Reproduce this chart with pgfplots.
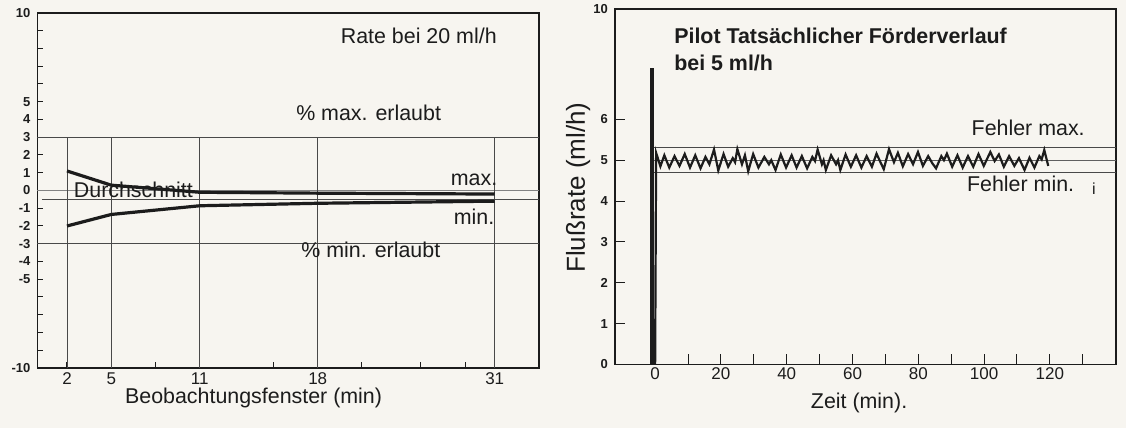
\documentclass[border=0pt]{standalone}
\usepackage{pgfplots}
\pgfplotsset{compat=1.18}
\usepackage{fontspec}
\setmainfont{Liberation Sans}
\definecolor{paper}{RGB}{247,245,240}
\definecolor{ink}{RGB}{28,28,28}
\pgfplotsset{/pgf/number format/assume math mode=true}
\begin{document}
\begin{tikzpicture}[x=1pt,y=1pt]
\useasboundingbox (0,0) rectangle (563,214);
\fill[paper] (0,0) rectangle (563,214);
% ---------------- left chart ----------------
\begin{axis}[
  at={(18.75pt,30pt)}, anchor=south west,
  scale only axis, width=250.75pt, height=177.5pt,
  xmin=0, xmax=34, ymin=-10, ymax=10,
  axis line style={ink, line width=0.8pt},
  tick style={ink, line width=0.5pt},
  tick pos=left, tick align=inside, major tick length=3pt,
  xtick={2,5,11,19,31}, xticklabels={2,5,11,18,31},
  extra x ticks={8,16,22,26,29}, extra x tick labels={},
  ytick={-10,...,10},
  yticklabels={-10,,,,,-5,-4,-3,-2,-1,0,1,2,3,4,5,,,,,10},
  x tick label style={font=\fontsize{8.5}{8.5}\selectfont, yshift=1pt, text=ink},
  y tick label style={font=\bfseries\fontsize{6.5}{6.5}\selectfont, text=ink},
  clip=false,
]
\addplot[ink!80, line width=0.5pt] coordinates {(0,3)(34,3)};
\addplot[ink!80, line width=0.5pt] coordinates {(0,-3)(34,-3)};
\addplot[ink!55, line width=0.4pt] coordinates {(0,0)(34,0)};
\addplot[ink!80, line width=0.5pt] coordinates {(0.3,-0.48)(34,-0.48)};
\pgfplotsinvokeforeach{2,5,11,19,31}{
  \addplot[ink!80, line width=0.45pt] coordinates {(#1,-10)(#1,3)};
}
\addplot[ink, line width=1.6pt] coordinates {(2,1.1)(5,0.3)(11,-0.1)(19,-0.15)(31,-0.2)};
\addplot[ink, line width=1.6pt] coordinates {(2,-2.0)(5,-1.35)(11,-0.86)(19,-0.72)(31,-0.6)};
\node[font=\fontsize{10.7}{12}\selectfont, inner sep=0pt, text=ink] at (axis cs:25.85,8.7) {Rate bei 20 ml/h};
\node[font=\fontsize{10.7}{12}\selectfont, inner sep=0pt, text=ink] at (axis cs:22.45,4.36) {\% max. erlaubt};
\node[font=\fontsize{10.7}{12}\selectfont, inner sep=0pt, text=ink] at (axis cs:22.6,-3.36) {\% min. erlaubt};
\node[font=\fontsize{10.7}{12}\selectfont, inner sep=0pt, text=ink] at (axis cs:6.5,0.03) {Durchschnitt};
\node[font=\fontsize{10.7}{12}\selectfont, inner sep=0pt, anchor=east, text=ink] at (axis cs:31.2,0.6) {max.};
\node[font=\fontsize{10.7}{12}\selectfont, inner sep=0pt, anchor=east, text=ink] at (axis cs:31.0,-1.48) {min.};
\node[font=\fontsize{10.7}{12}\selectfont, inner sep=0pt, yshift=-15pt, text=ink] at (axis cs:14.65,-10) {Beobachtungsfenster (min)};
\end{axis}
% ---------------- right chart ----------------
\begin{axis}[
  at={(307.5pt,31.75pt)}, anchor=south west,
  scale only axis, width=250.5pt, height=177.75pt,
  xmin=-12.2, xmax=140.1, ymin=0, ymax=8.7,
  axis line style={ink, line width=0.8pt},
  tick style={ink, line width=0.5pt},
  tick pos=left, tick align=inside, major tick length=5pt,
  xtick={0,10,...,130}, xticklabels={0,,20,,40,,60,,80,,100,,120,},
  ytick={0,...,6},
  extra y ticks={8.7}, extra y tick labels={10},
  extra y tick style={major tick length=0pt, tick label style={font=\bfseries\fontsize{5}{5}\selectfont}},
  x tick label style={font=\fontsize{8.5}{8.5}\selectfont, yshift=2pt, text=ink},
  y tick label style={font=\bfseries\fontsize{6.5}{6.5}\selectfont, text=ink},
  clip=false,
]
\addplot[ink!80, line width=0.5pt] coordinates {(-1,5.32)(140.1,5.32)};
\addplot[ink!70, line width=0.4pt] coordinates {(-1,5.0)(140.1,5.0)};
\addplot[ink!80, line width=0.5pt] coordinates {(-1,4.7)(140.1,4.7)};
\addplot[ink, line width=2pt] coordinates {(-1,0)(-1,7.25)};
\addplot[ink, line width=1.1pt] coordinates {
(0,0)(0.3,5.18)(1.6,4.85)(2.8,5.12)(4.3,4.82)(5.9,5.10)(7.4,4.86)(9.0,5.15)(10.6,4.82)
(12.2,5.12)(13.8,4.80)(15.3,5.08)(16.5,4.90)(17.9,5.26)(19.2,4.75)(20.8,5.15)(22.2,4.84)
(23.6,5.05)(24.3,4.95)(25.0,5.27)(26.4,4.90)(27.3,5.12)(28.3,4.73)(29.8,5.15)(31.4,4.82)
(33.2,5.08)(34.6,4.90)(35.3,5.00)(36.6,4.76)(38.2,5.14)(39.8,4.82)(41.5,5.12)(43.0,4.82)
(44.6,5.10)(46.2,4.80)(47.8,5.08)(48.6,4.98)(49.4,5.26)(50.7,4.90)(51.2,5.00)(51.9,4.76)
(53.5,5.12)(55.0,4.90)(55.6,5.00)(56.3,4.76)(57.9,5.14)(59.5,4.84)(61.1,5.12)(62.7,4.82)
(64.3,5.10)(65.9,4.84)(67.3,5.16)(68.5,4.95)(69.5,4.78)(71.1,5.27)(72.6,4.95)(73.8,5.18)
(75.3,4.85)(76.9,5.15)(78.4,4.90)(79.9,5.20)(81.4,4.86)(83.0,5.10)(84.3,4.92)(85.4,4.80)
(87.0,5.10)(87.8,5.00)(88.7,5.16)(90.3,4.84)(91.9,5.12)(93.5,4.82)(95.1,5.10)(96.7,4.84)
(98.3,5.15)(99.9,4.86)(101.9,5.20)(103.2,4.98)(104.5,5.14)(106.0,4.84)(107.6,5.10)(109.2,4.86)
(110.6,5.05)(112.3,4.76)(113.8,5.06)(115.3,4.82)(116.8,5.10)(117.5,5.02)(118.3,5.25)(119.5,4.86)};
\node[font=\bfseries\fontsize{10.7}{12}\selectfont, inner sep=0pt, anchor=west, text=ink] at (axis cs:5.7,8.04) {Pilot Tatsächlicher Förderverlauf};
\node[font=\bfseries\fontsize{10.7}{12}\selectfont, inner sep=0pt, anchor=west, text=ink] at (axis cs:5.7,7.39) {bei 5 ml/h};
\node[font=\fontsize{10.7}{12}\selectfont, inner sep=0pt, anchor=east, text=ink] at (axis cs:130.7,5.79) {Fehler max.};
\node[font=\fontsize{10.7}{12}\selectfont, inner sep=0pt, anchor=east, text=ink] at (axis cs:127.5,4.43) {Fehler min.};
\node[font=\fontsize{8}{8}\selectfont, inner sep=0pt, text=ink] at (axis cs:133.4,4.3) {i};
\node[font=\fontsize{13}{14}\selectfont, inner sep=0pt, rotate=90, text=ink] at (axis cs:-23.4,4.33) {Flußrate (ml/h)};
\node[font=\fontsize{10.7}{12}\selectfont, inner sep=0pt, yshift=-19.25pt, text=ink] at (axis cs:62,0) {Zeit (min).};
\end{axis}
\end{tikzpicture}
\end{document}
